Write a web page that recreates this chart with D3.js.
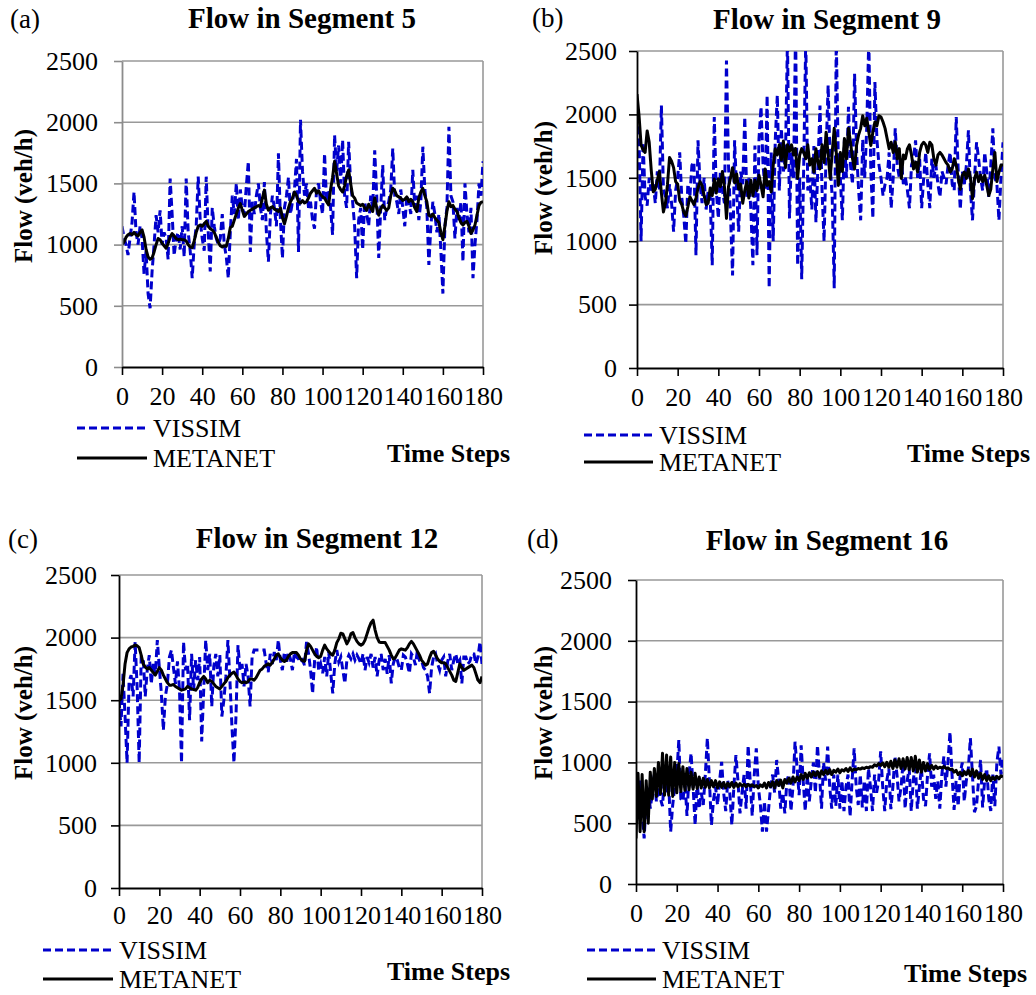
<!DOCTYPE html>
<html>
<head>
<meta charset="utf-8">
<script src="https://cdn.jsdelivr.net/npm/d3@7"></script>
<style>
  body { margin: 0; background: #fff; }
  svg text { font-family: "Liberation Serif", "Times New Roman", serif; fill: #000; }
</style>
</head>
<body>
<svg id="chart" width="1036" height="995"></svg>
<script>
// tick values and labels
var xTicks = [0, 20, 40, 60, 80, 100, 120, 140, 160, 180];
var yTicks = [0, 500, 1000, 1500, 2000, 2500];
var seriesNames = ["VISSIM", "METANET"];
var panelLetters = ["(a)", "(b)", "(c)", "(d)"];
var panelTitles = ["Flow in Segment 5", "Flow in Segment 9", "Flow in Segment 12", "Flow in Segment 16"];

// flow (veh/h) per time step 0..180
var seg5Vissim = [
  1150,1060,1000,915,1050,1180,1430,1100,1000,1150,1050,760,950,600,480,780,1000,1240,1100,1280,
  1000,1100,1050,880,1540,1250,910,1050,1100,960,1150,900,1540,1100,950,725,1000,1150,1555,1200,
  1050,950,1555,1100,780,1300,1150,1050,1000,1050,1250,1000,900,725,1100,1400,1250,1500,1200,1450,
  1300,1250,1480,1680,940,1350,1250,1400,1500,1300,1200,1510,1100,860,1250,1400,1300,1150,1745,1200,
  890,1300,1400,1550,1250,1350,1450,1700,940,2020,1600,1400,1500,1300,1350,1200,1130,1450,1500,1350,
  1250,1745,1350,1450,1300,1080,1895,1600,1810,1500,1855,1400,1300,1840,1500,1350,1150,725,1200,1300,
  960,1350,1250,1150,1400,1300,1770,1400,890,1300,1650,1200,1300,1350,1450,1785,1400,1350,1250,1450,
  1300,1150,1400,1350,1250,1610,1300,1400,1200,1350,1800,1450,1300,833,1150,1350,1250,1100,1250,950,
  600,1150,1300,1963,1400,1350,1050,1300,1200,1350,860,1500,1250,1100,1300,725,1000,1200,1500,1400,
  1680
];
var seg5Metanet = [
  1000,1020,1060,1080,1090,1080,1100,1080,1070,1100,1120,1060,960,900,880,890,940,1000,1050,1040,
  1010,990,970,1010,1060,1090,1070,1050,1040,1045,1040,1040,1030,1000,980,975,1030,1100,1150,1160,
  1150,1170,1190,1150,1130,1120,1100,1060,1020,990,980,990,985,1050,1140,1150,1200,1250,1300,1335,
  1280,1230,1250,1270,1280,1290,1300,1310,1320,1310,1380,1445,1330,1280,1300,1310,1290,1280,1270,1300,
  1220,1170,1230,1300,1350,1380,1430,1400,1350,1340,1360,1340,1350,1380,1420,1440,1460,1420,1440,1410,
  1390,1380,1350,1325,1450,1550,1680,1580,1480,1450,1430,1480,1560,1610,1500,1400,1380,1340,1330,1320,
  1330,1300,1280,1330,1300,1270,1380,1300,1240,1290,1320,1300,1280,1300,1400,1460,1440,1400,1390,1380,
  1360,1370,1390,1350,1370,1350,1300,1270,1380,1430,1460,1400,1350,1240,1230,1250,1220,1200,1180,1100,
  1040,1150,1270,1350,1310,1320,1290,1270,1220,1180,1160,1180,1190,1150,1090,1120,1160,1240,1320,1345,
  1350
];
var seg9Vissim = [
  2000,1810,1000,1780,1350,1280,1500,1400,1450,1300,1550,1400,2070,1410,1350,1260,1450,1300,1075,1400,
  1500,1700,1350,1200,980,1450,1350,1600,1625,890,1795,1450,1300,1500,1250,1400,1350,810,1980,1400,
  1180,1550,1400,1300,2425,1600,1200,730,1795,1400,1075,1550,1450,1980,1350,1500,1250,810,1755,890,
  1810,2060,1600,1400,2150,630,1700,1000,1800,2150,1400,1890,1550,1650,2600,1180,1700,1500,2700,810,
  1500,700,1600,2600,1400,1500,1250,1750,1150,1600,2070,1400,1000,1700,2230,1600,1350,630,2600,1650,
  1500,1165,1800,1500,2060,1600,1450,2320,1700,1400,1165,1800,1500,1900,2600,1550,1180,2255,1800,1600,
  1500,1360,1450,1500,1700,1260,1500,1890,1600,1500,1650,1450,1500,1400,1260,1600,1650,1795,1500,1650,
  1260,1500,1700,1450,1260,1650,1500,1600,1450,1350,1550,1500,1450,1600,1700,1450,1400,1980,1550,1250,
  1550,1450,1600,1875,1400,1165,1500,1780,1650,1500,1400,1700,1550,1350,1600,1890,1500,1450,1165,1500,
  1780
];
var seg9Metanet = [
  2160,1990,1760,1720,1700,1870,1780,1560,1390,1410,1480,1550,1380,1230,1300,1450,1660,1630,1580,1470,
  1450,1320,1290,1230,1200,1270,1350,1320,1290,1340,1420,1470,1440,1360,1290,1300,1420,1360,1490,1380,
  1490,1430,1550,1430,1180,1430,1500,1580,1460,1530,1410,1450,1300,1400,1470,1340,1480,1360,1480,1400,
  1520,1440,1350,1570,1440,1470,1390,1600,1730,1680,1760,1640,1790,1580,1760,1710,1760,1680,1730,1495,
  1680,1730,1700,1650,1760,1600,1650,1545,1730,1620,1570,1760,1620,1860,1680,1495,1700,1890,1700,1440,
  1700,1550,1810,1650,1890,1780,1650,1570,1760,1840,1890,1990,1910,1970,1860,1755,1860,1940,1910,1990,
  1980,1940,1890,1810,1730,1780,1700,1785,1650,1730,1495,1680,1650,1730,1760,1680,1570,1625,1545,1700,
  1760,1780,1760,1700,1780,1760,1650,1600,1680,1700,1680,1650,1620,1600,1545,1570,1650,1600,1495,1410,
  1520,1545,1495,1570,1495,1335,1495,1545,1470,1520,1470,1520,1440,1360,1410,1570,1700,1470,1545,1600,
  1600
];
var seg12Vissim = [
  1500,1290,1710,1370,1000,1650,1700,1530,1965,1600,1000,1845,1845,1530,1740,1860,1630,1790,1700,1980,
  1760,1555,1260,1530,1630,1845,1900,1760,1630,1810,1580,1000,1965,1740,1790,1340,1870,1580,1820,1660,
  1845,1170,1580,1980,1740,1870,1450,1770,1870,1690,1860,1370,1500,1690,1980,1660,1290,1000,1370,1940,
  1740,1790,1610,1790,1690,1450,1845,1900,1900,1900,1900,1900,1900,1790,1725,1870,1790,1885,1820,1980,
  1820,1740,1885,1790,1885,1830,1740,1885,1845,1830,1800,1820,1780,1965,1870,1740,1555,1820,1925,1740,
  1790,1715,1845,1690,1885,1715,1555,1790,1900,1805,1845,1740,1635,1820,1860,1830,1870,1820,1860,1830,
  1790,1870,1740,1845,1800,1870,1760,1845,1690,1820,1870,1740,1830,1710,1860,1635,1790,1845,1820,1760,
  1740,1860,1845,1790,1715,1870,1845,1780,1900,1820,1820,1760,1740,1690,1555,1760,1845,1870,1790,1740,
  1820,1845,1690,1810,1870,1740,1820,1870,1790,1820,1635,1845,1845,1790,1810,1870,1870,1790,1845,1965,
  1790
];
var seg12Metanet = [
  1500,1510,1620,1790,1880,1910,1925,1930,1940,1935,1920,1860,1790,1765,1750,1760,1740,1720,1700,1730,
  1760,1740,1700,1670,1640,1620,1620,1625,1610,1600,1590,1580,1585,1590,1610,1600,1590,1585,1580,1600,
  1640,1670,1690,1670,1640,1660,1650,1630,1610,1600,1590,1610,1630,1650,1680,1700,1715,1725,1700,1670,
  1650,1640,1645,1640,1650,1670,1670,1660,1680,1710,1740,1750,1770,1780,1790,1780,1800,1830,1860,1870,
  1840,1820,1810,1820,1850,1870,1880,1880,1880,1860,1830,1815,1810,1900,1950,1930,1900,1870,1850,1840,
  1850,1900,1940,1910,1890,1870,1860,1900,1960,1990,2035,2030,1990,1950,1980,2030,2040,2000,1970,1950,
  1940,1950,1980,2030,2080,2120,2140,2060,2000,1965,1960,1960,1960,1930,1900,1860,1830,1840,1870,1900,
  1910,1905,1900,1920,1950,1970,1950,1920,1890,1860,1820,1800,1780,1790,1840,1880,1890,1860,1830,1810,
  1800,1800,1790,1760,1730,1700,1660,1650,1720,1790,1760,1740,1750,1760,1770,1780,1760,1710,1660,1640,
  1690
];
var seg16Vissim = [
  900,650,850,600,375,700,800,620,750,900,680,800,700,640,900,750,850,430,650,800,
  900,1185,700,680,850,560,900,1075,800,485,850,620,750,650,900,1200,850,485,690,800,
  650,850,1005,750,600,850,750,485,800,1060,850,580,750,900,620,1140,850,560,900,1115,
  800,650,430,680,430,610,800,900,750,1020,850,620,750,580,850,900,600,800,1170,950,
  730,1140,850,600,900,680,850,1000,750,1140,900,620,1000,850,1130,800,620,900,640,900,
  620,850,600,800,900,555,850,1115,800,650,900,630,850,600,950,800,600,900,750,850,
  1090,800,600,850,950,615,800,1050,900,680,800,1000,620,850,950,600,850,1000,620,800,
  950,700,640,900,1075,800,900,700,850,620,900,1050,800,1000,1250,900,610,850,640,900,
  1000,680,850,950,1200,900,590,640,850,1020,630,850,950,700,600,900,640,1000,1130,900,
  1050
];
var seg16Metanet = [
  375,910,430,900,430,850,500,920,700,950,720,1000,740,1075,730,1060,730,1045,720,1000,
  750,990,760,965,770,950,775,920,780,910,785,880,790,870,795,860,790,850,800,850,
  790,840,795,835,790,830,800,835,795,830,800,825,805,820,800,820,805,815,800,810,
  790,815,800,830,790,835,800,840,790,850,810,855,790,860,830,870,830,880,840,880,
  850,900,860,910,870,915,880,920,890,925,880,930,900,935,905,940,900,935,920,945,
  915,940,930,950,925,955,930,945,940,950,945,955,950,960,955,965,960,980,970,990,
  975,995,965,1000,960,1010,950,1020,960,1030,950,1030,945,1040,940,1040,930,1050,920,1020,
  920,1000,930,990,940,975,945,970,950,960,955,965,950,955,940,945,920,935,900,920,
  890,925,900,935,890,945,880,930,870,910,860,900,850,890,850,880,860,885,865,890,
  880
];

// layout of the four panels
var panels = [
  { id: "a", vissim: seg5Vissim, metanet: seg5Metanet,
    x0: 122, x1: 483, y0: 61, y1: 367, yAxisColor: "#8c8c8c", yPad: 16, xPad: 12,
    titleX: 302, titleY: 28, letterX: 10, letterY: 28, labelX: 32, labelY: 196,
    legX1: 77, legX2: 147, legY1: 428, legY2: 458, timeX: 510, timeY: 462 },
  { id: "b", vissim: seg9Vissim, metanet: seg9Metanet,
    x0: 637, x1: 1003, y0: 51, y1: 368, yAxisColor: "#000", yPad: 12, xPad: 12,
    titleX: 827, titleY: 29, letterX: 532, letterY: 27, labelX: 552, labelY: 188,
    legX1: 584, legX2: 653, legY1: 435, legY2: 462, timeX: 1030, timeY: 462 },
  { id: "c", vissim: seg12Vissim, metanet: seg12Metanet,
    x0: 119, x1: 482, y0: 575, y1: 888, yAxisColor: "#000", yPad: 14, xPad: 10,
    titleX: 317, titleY: 548, letterX: 8, letterY: 548, labelX: 32, labelY: 713,
    legX1: 43, legX2: 113, legY1: 950, legY2: 979, timeX: 510, timeY: 980 },
  { id: "d", vissim: seg16Vissim, metanet: seg16Metanet,
    x0: 636, x1: 1003, y0: 580, y1: 884, yAxisColor: "#000", yPad: 16, xPad: 12,
    titleX: 827, titleY: 550, letterX: 527, letterY: 548, labelX: 552, labelY: 713,
    legX1: 587, legX2: 656, legY1: 950, legY2: 979, timeX: 1027, timeY: 982 }
];

var svg = d3.select("#chart");
var fontFamily = "'Liberation Serif', 'Times New Roman', serif";
var vissimDash = "8,4";

function drawPanel(p, k) {
  var x = d3.scaleLinear().domain([0, 180]).range([p.x0, p.x1]);
  var y = d3.scaleLinear().domain([0, 2500]).range([p.y1, p.y0]);
  var g = svg.append("g");

  // gridlines + right border
  g.selectAll(".grid")
    .data(yTicks.slice(1))
    .enter().append("line")
    .attr("x1", p.x0).attr("x2", p.x1)
    .attr("y1", function(d) { return y(d); })
    .attr("y2", function(d) { return y(d); })
    .attr("stroke", "#999").attr("stroke-width", 1.6);
  g.append("line")
    .attr("x1", p.x1).attr("x2", p.x1)
    .attr("y1", p.y0).attr("y2", p.y1)
    .attr("stroke", "#999").attr("stroke-width", 1.6);

  svg.append("clipPath").attr("id", "clip-" + p.id)
    .append("rect")
    .attr("x", p.x0).attr("y", p.y0)
    .attr("width", p.x1 - p.x0).attr("height", p.y1 - p.y0);

  var line = d3.line()
    .x(function(d, i) { return x(i); })
    .y(function(d) { return y(d); });

  g.append("path")
    .datum(p.vissim)
    .attr("clip-path", "url(#clip-" + p.id + ")")
    .attr("fill", "none")
    .attr("stroke", "#0000cc")
    .attr("stroke-width", 3)
    .attr("stroke-dasharray", vissimDash)
    .attr("d", line);

  g.append("path")
    .datum(p.metanet)
    .attr("clip-path", "url(#clip-" + p.id + ")")
    .attr("fill", "none")
    .attr("stroke", "#000")
    .attr("stroke-width", 3)
    .attr("stroke-linejoin", "round")
    .attr("d", line);

  // axes
  var yAxis = d3.axisLeft(y).tickValues(yTicks).tickFormat(d3.format("d"))
    .tickSize(8).tickSizeOuter(0).tickPadding(p.yPad);
  var gy = g.append("g")
    .attr("transform", "translate(" + p.x0 + ",0)")
    .call(yAxis);
  gy.select(".domain").attr("stroke", p.yAxisColor).attr("stroke-width", 1.8);
  gy.selectAll(".tick line").attr("stroke", p.yAxisColor).attr("stroke-width", 1.6);
  gy.selectAll(".tick text").style("font-family", fontFamily).style("font-size", "26px");

  var xAxis = d3.axisBottom(x).tickValues(xTicks).tickFormat(d3.format("d"))
    .tickSize(8).tickSizeOuter(0).tickPadding(p.xPad);
  var gx = g.append("g")
    .attr("transform", "translate(0," + p.y1 + ")")
    .call(xAxis);
  gx.select(".domain").attr("stroke", "#000").attr("stroke-width", 1.8);
  gx.selectAll(".tick line").attr("stroke", "#000").attr("stroke-width", 1.6);
  gx.selectAll(".tick text").style("font-family", fontFamily).style("font-size", "26px");

  // texts
  g.append("text")
    .attr("x", p.titleX).attr("y", p.titleY)
    .attr("text-anchor", "middle")
    .style("font-family", fontFamily)
    .style("font-size", "29px").style("font-weight", "bold")
    .text(panelTitles[k]);

  g.append("text")
    .attr("x", p.letterX).attr("y", p.letterY)
    .style("font-family", fontFamily)
    .style("font-size", "27px")
    .text(panelLetters[k]);

  g.append("text")
    .attr("transform", "translate(" + p.labelX + "," + p.labelY + ") rotate(-90)")
    .attr("text-anchor", "middle")
    .style("font-family", fontFamily)
    .style("font-size", "25px").style("font-weight", "bold")
    .text("Flow (veh/h)");

  g.append("text")
    .attr("x", p.timeX).attr("y", p.timeY)
    .attr("text-anchor", "end")
    .style("font-family", fontFamily)
    .style("font-size", "26px").style("font-weight", "bold")
    .text("Time Steps");

  // legend
  var legY = [p.legY1, p.legY2];
  var leg = g.selectAll(".legend")
    .data(seriesNames)
    .enter().append("g");
  leg.append("line")
    .attr("x1", p.legX1).attr("x2", p.legX2)
    .attr("y1", function(d, i) { return legY[i]; })
    .attr("y2", function(d, i) { return legY[i]; })
    .attr("stroke", function(d, i) { return i === 0 ? "#0000cc" : "#000"; })
    .attr("stroke-width", 3)
    .attr("stroke-dasharray", function(d, i) { return i === 0 ? vissimDash : null; });
  leg.append("text")
    .attr("x", p.legX2 + 6)
    .attr("y", function(d, i) { return legY[i] + 9; })
    .style("font-family", fontFamily)
    .style("font-size", "26px")
    .text(function(d) { return d; });
}

panels.forEach(drawPanel);
</script>
</body>
</html>
